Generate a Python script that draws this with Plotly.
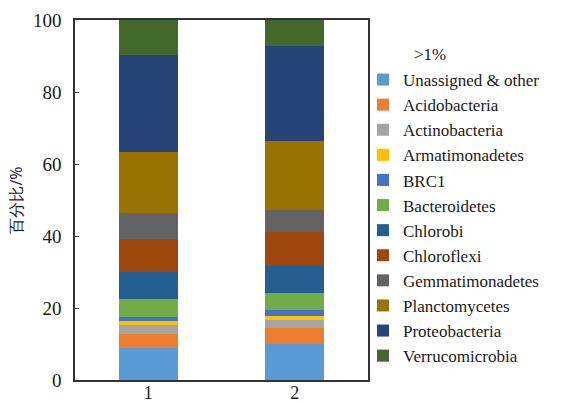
import plotly.graph_objects as go

samples = ["1", "2"]
phyla = ["Unassigned & other", "Acidobacteria", "Actinobacteria", "Armatimonadetes",
         "BRC1", "Bacteroidetes", "Chlorobi", "Chloroflexi", "Gemmatimonadetes",
         "Planctomycetes", "Proteobacteria", "Verrucomicrobia"]
sample1 = [8.8, 3.9, 2.6, 1.1, 1.2, 4.8, 7.7, 9.2, 7.0, 16.9, 27.1, 9.7]
sample2 = [10.0, 4.5, 2.2, 1.2, 1.5, 4.7, 7.7, 9.4, 6.0, 19.3, 26.4, 7.1]
colors = ["#5B9BD5", "#ED7D31", "#A5A5A5", "#FFC000", "#4472C4", "#70AD47",
          "#255E91", "#9E480E", "#636363", "#997300", "#264478", "#43682B"]
y_ticks = [0, 20, 40, 60, 80, 100]

FONT = "Liberation Serif"
SERIF = dict(family=FONT, size=17, color="#1a1a1a")
TICK = dict(family=FONT, size=19, color="#1a1a1a")
XTICK = dict(family=FONT, size=18, color="#1a1a1a")

fig = go.Figure()
for name, v1, v2, c in zip(phyla, sample1, sample2, colors):
    fig.add_trace(go.Bar(x=samples, y=[v1, v2], name=name, marker_color=c,
                         marker_line_width=0, width=0.4))

fig.update_layout(
    width=565, height=403,
    margin=dict(l=75, r=197, t=20, b=23),
    barmode="stack",
    template="none",
    plot_bgcolor="white", paper_bgcolor="white",
    showlegend=True,
    legend=dict(x=(363 - 75) / 293, xanchor="left", y=(380 - 62) / 360, yanchor="top",
                yref="paper", traceorder="normal", font=SERIF,
                bgcolor="rgba(0,0,0,0)", itemwidth=30),
    annotations=[dict(text=">1%", x=(412 - 75) / 293, y=(380 - 55) / 360, xref="paper", yref="paper",
                      xanchor="left", yanchor="middle", showarrow=False, font=SERIF)],
)
fig.update_xaxes(type="category", range=[-0.5, 1.5], showline=True, linecolor="#333",
                 linewidth=1.5, mirror=True, ticks="", showgrid=False, tickfont=XTICK,
                 ticklabelstandoff=-4)
fig.update_yaxes(range=[0, 100], tickvals=y_ticks, showline=True, linecolor="#333",
                 linewidth=1.5, mirror=True, ticks="inside", ticklen=4, tickcolor="#333",
                 showgrid=False, zeroline=False, ticklabelstandoff=8,
                 title=dict(text="百分比/%", font=dict(size=16, color="#1a1a1a"), standoff=6),
                 tickfont=TICK)

fig.write_html("out.html")
